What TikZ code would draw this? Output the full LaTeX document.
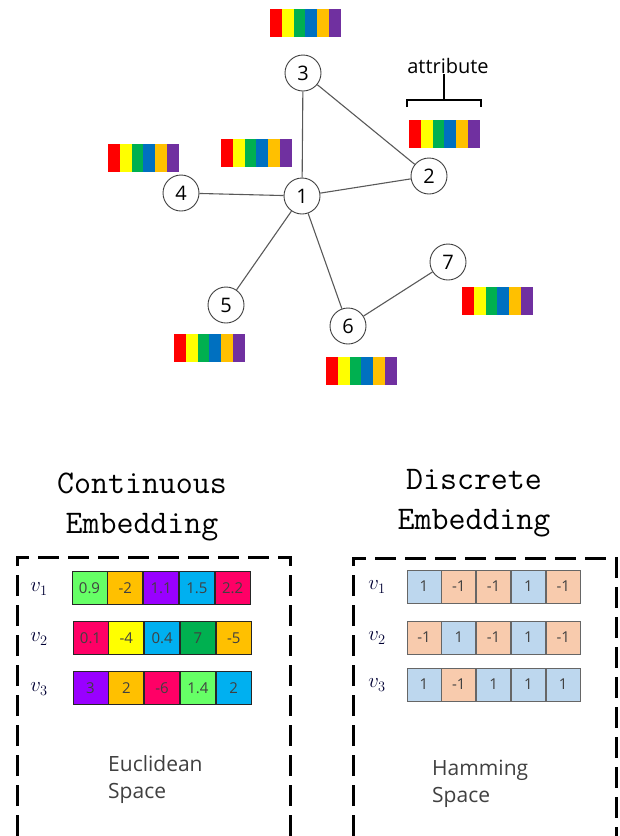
\documentclass[tikz,border=0pt]{standalone}
\usepackage{fontspec}
\setsansfont{Open Sans}
\usetikzlibrary{positioning}

\definecolor{cred}{HTML}{FF0000}
\definecolor{cyellow}{HTML}{FFFF00}
\definecolor{cgreen}{HTML}{00B050}
\definecolor{cblue}{HTML}{0070C0}
\definecolor{corange}{HTML}{FFC000}
\definecolor{cpurple}{HTML}{7030A0}
\definecolor{clime}{HTML}{66FF66}
\definecolor{cviolet}{HTML}{9900FF}
\definecolor{csky}{HTML}{00B0F0}
\definecolor{cpink}{HTML}{FF0066}
\definecolor{hblue}{HTML}{BDD7EE}
\definecolor{horange}{HTML}{F8CBAD}

\begin{document}
\begin{tikzpicture}[
    x=1pt, y=-1pt,
    vertex/.style={
        circle,
        draw=black!75,
        line width=0.9pt,
        minimum size=36pt,
        inner sep=0pt,
        font=\sffamily\fontsize{20}{20}\selectfont,
    },
    edge/.style={
        draw=black!65,
        line width=1.1pt,
    },
    rainbow/.pic={
        \fill[cred]    (0,0)    rectangle (11.8,28);
        \fill[cyellow] (11.8,0) rectangle (23.6,28);
        \fill[cgreen]  (23.6,0) rectangle (35.4,28);
        \fill[cblue]   (35.4,0) rectangle (47.2,28);
        \fill[corange] (47.2,0) rectangle (59,28);
        \fill[cpurple] (59,0)   rectangle (71,28);
    },
    bracket/.style={
        line width=2.6pt,
    },
    title/.style={
        align=center,
        font=\ttfamily\fontsize{33}{40}\selectfont,
    },
    box/.style={
        line width=3pt,
        dash pattern=on 21pt off 9pt,
    },
    cell/.style={
        draw=black!85,
        line width=0.8pt,
        minimum width=35pt,
        minimum height=33pt,
        inner sep=0pt,
        text=black!75,
        font=\sffamily\fontsize{15}{15}\selectfont,
    },
    bit/.style={
        cell,
        draw=black!60,
        minimum width=34pt,
    },
    vec/.style={
        font=\fontsize{21}{21}\selectfont,
        text=black!80!blue,
    },
    space/.style={
        align=left,
        anchor=north west,
        inner sep=0pt,
        text=black!75,
        font=\sffamily\fontsize{21}{27}\selectfont,
    }
]
    \useasboundingbox (0,0) rectangle (619,836);

    % Graph
    \node[vertex] (n1) at (302,196) {1};
    \node[vertex] (n2) at (429,176) {2};
    \node[vertex] (n3) at (303,73) {3};
    \node[vertex] (n4) at (181,193) {4};
    \node[vertex] (n5) at (226,305) {5};
    \node[vertex] (n6) at (348,326) {6};
    \node[vertex] (n7) at (448,262) {7};

    \draw[edge] (n1) -- (n3);
    \draw[edge] (n1) -- (n2);
    \draw[edge] (n3) -- (n2);
    \draw[edge] (n1) -- (n4);
    \draw[edge] (n1) -- (n5);
    \draw[edge] (n1) -- (n6);
    \draw[edge] (n6) -- (n7);

    % Attributes
    \pic at (270,9) {rainbow};
    \pic at (409,120) {rainbow};
    \pic at (108,144) {rainbow};
    \pic at (221,139) {rainbow};
    \pic at (174,334) {rainbow};
    \pic at (462,287) {rainbow};
    \pic at (326,357) {rainbow};

    \node[font=\sffamily\fontsize{20}{20}\selectfont, inner sep=0pt] (attr) at (448,66) {attribute};
    \coordinate (stem) at (444,100);
    \draw[bracket] (407,107) -- (407,100) -- (481,100) -- (481,107);
    \draw[bracket] (stem) -- (stem |- attr.south);

    % Titles
    \node[title] (cont) at (142,507) {Continuous\\Embedding};
    \node[title] (disc) at (474,503) {Discrete\\Embedding};

    % Frames
    \draw[box] (17,836) -- (17,557) -- (290,557) -- (290,836);
    \draw[box] (353,836) -- (353,558) -- (616,558) -- (616,836);

    % Continuous vectors
    \node[vec] (cv1) at (39,589) {$v_1$};
    \node[vec] (cv2) at (39,639) {$v_2$};
    \node[vec] (cv3) at (39,689) {$v_3$};

    \node[cell, fill=clime] (a11) at (89.5,588) {0.9};
    \node[cell, fill=corange, right=0pt of a11] (a12) {-2};
    \node[cell, fill=cviolet, right=0pt of a12] (a13) {1.1};
    \node[cell, fill=csky, right=0pt of a13] (a14) {1.5};
    \node[cell, fill=cpink, right=0pt of a14] (a15) {2.2};

    \node[cell, fill=cpink] (a21) at (90.5,638) {0.1};
    \node[cell, fill=cyellow, right=0pt of a21] (a22) {-4};
    \node[cell, fill=csky, right=0pt of a22] (a23) {0.4};
    \node[cell, fill=cgreen, right=0pt of a23] (a24) {7};
    \node[cell, fill=corange, right=0pt of a24] (a25) {-5};

    \node[cell, fill=cviolet] (a31) at (90.5,688) {3};
    \node[cell, fill=corange, right=0pt of a31] (a32) {2};
    \node[cell, fill=cpink, right=0pt of a32] (a33) {-6};
    \node[cell, fill=clime, right=0pt of a33] (a34) {1.4};
    \node[cell, fill=csky, right=0pt of a34] (a35) {2};

    % Discrete vectors
    \node[vec] (dv1) at (377,587) {$v_1$};
    \node[vec] (dv2) at (377,638) {$v_2$};
    \node[vec] (dv3) at (377,685) {$v_3$};

    \node[bit, fill=hblue] (b11) at (424,586.5) {1};
    \node[bit, fill=horange, right=0pt of b11] (b12) {-1};
    \node[bit, fill=horange, right=0pt of b12] (b13) {-1};
    \node[bit, fill=hblue, right=0pt of b13] (b14) {1};
    \node[bit, fill=horange, right=0pt of b14] (b15) {-1};

    \node[bit, fill=horange] (b21) at (424,637.5) {-1};
    \node[bit, fill=hblue, right=0pt of b21] (b22) {1};
    \node[bit, fill=horange, right=0pt of b22] (b23) {-1};
    \node[bit, fill=hblue, right=0pt of b23] (b24) {1};
    \node[bit, fill=horange, right=0pt of b24] (b25) {-1};

    \node[bit, fill=hblue] (b31) at (424,684.5) {1};
    \node[bit, fill=horange, right=0pt of b31] (b32) {-1};
    \node[bit, fill=hblue, right=0pt of b32] (b33) {1};
    \node[bit, fill=hblue, right=0pt of b33] (b34) {1};
    \node[bit, fill=hblue, right=0pt of b34] (b35) {1};

    % Spaces
    \node[space] (eucl) at (108,755) {Euclidean\\Space};
    \node[space] (hamm) at (432,760) {Hamming\\Space};
\end{tikzpicture}
\end{document}
